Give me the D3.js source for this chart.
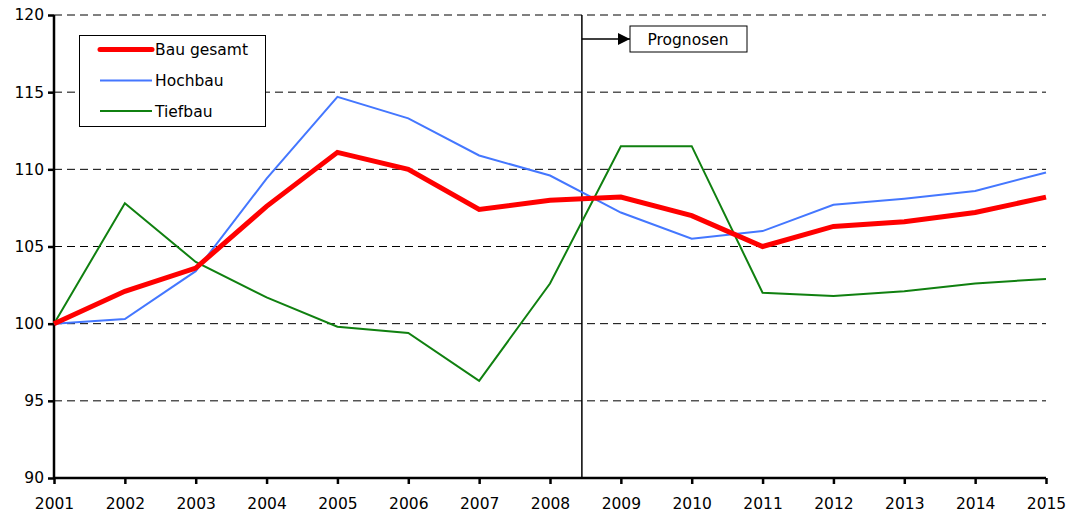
<!DOCTYPE html>
<html><head><meta charset="utf-8">
<script src="https://cdn.jsdelivr.net/npm/d3@7"></script>
<style>
body{margin:0;background:#fff;}
svg{display:block;font-family:"DejaVu Sans",sans-serif;}
</style></head>
<body><svg id="c" width="1067" height="515"></svg>
<script>
const years = [2001,2002,2003,2004,2005,2006,2007,2008,2009,2010,2011,2012,2013,2014,2015];
const bauGesamt = [100,102.1,103.6,107.6,111.1,110.0,107.4,108.0,108.2,107.0,105.0,106.3,106.6,107.2,108.2];
const hochbau   = [100,100.3,103.4,109.4,114.7,113.3,110.9,109.6,107.2,105.5,106.0,107.7,108.1,108.6,109.8];
const tiefbau   = [100,107.8,104.0,101.7,99.8,99.4,96.3,102.6,111.5,111.5,102.0,101.8,102.1,102.6,102.9];
const yTicks = [90,95,100,105,110,115,120];
const forecastStart = 2008.45;
const forecastLabel = "Prognosen";

const series = [
  {name:"Bau gesamt", values:bauGesamt, color:"#ff0000", width:5},
  {name:"Hochbau", values:hochbau, color:"#4477ff", width:2},
  {name:"Tiefbau", values:tiefbau, color:"#108010", width:2}
];

const FS = "15.5px";
const svg = d3.select("#c");
const x = d3.scaleLinear().domain([2001,2015]).range([54,1046]);
const y = d3.scaleLinear().domain([90,120]).range([478,15]);

// gridlines
svg.append("g").selectAll("line").data(yTicks.filter(d=>d>90)).join("line")
  .attr("x1",x(2001)).attr("x2",x(2015))
  .attr("y1",d=>y(d)).attr("y2",d=>y(d))
  .attr("stroke","#000").attr("stroke-width",1).attr("stroke-dasharray","8,5");

// axes
const yAxis = d3.axisLeft(y).tickValues(yTicks).tickSize(6).tickPadding(4).tickFormat(d3.format("d"));
const gy = svg.append("g").attr("transform",`translate(${x(2001)},0)`).call(yAxis);
const xAxis = d3.axisBottom(x).tickValues(years).tickSize(6).tickPadding(14).tickFormat(d3.format("d"));
const gx = svg.append("g").attr("transform",`translate(0,${y(90)})`).call(xAxis);
[gx,gy].forEach(g=>{
  g.attr("font-family",null).attr("font-size",null);
  g.select(".domain").attr("stroke","#000").attr("stroke-width",2.5);
  g.selectAll(".tick line").attr("stroke","#000").attr("stroke-width",2.5);
  g.selectAll("text").attr("fill","#000").attr("font-size",FS).style("font-size",FS).style("font-family","'DejaVu Sans',sans-serif");
});
gy.select(".domain").attr("d",`M0,${y(120)}V${y(90)}`);
gx.select(".domain").attr("d",`M${x(2001)},0H${x(2015)}`);

// forecast divider
svg.append("line").attr("x1",x(forecastStart)).attr("x2",x(forecastStart))
  .attr("y1",y(120)).attr("y2",y(90)).attr("stroke","#000").attr("stroke-width",1.5);

// lines
const line = d3.line().x((d,i)=>x(years[i])).y(d=>y(d));
const order = [series[2],series[1],series[0]];
svg.append("g").selectAll("path").data(order).join("path")
  .attr("d",d=>line(d.values)).attr("fill","none")
  .attr("stroke",d=>d.color).attr("stroke-width",d=>d.width)
  .attr("stroke-linejoin","miter");

// Prognosen arrow and box
const ay = 39;
svg.append("defs").append("marker").attr("id","arr").attr("viewBox","0 0 10 10")
  .attr("refX",10).attr("refY",5).attr("markerWidth",14).attr("markerHeight",12)
  .attr("markerUnits","userSpaceOnUse").attr("orient","auto")
  .append("path").attr("d","M0,0L10,5L0,10Z").attr("fill","#000");
svg.append("line").attr("x1",x(forecastStart)).attr("x2",630).attr("y1",ay).attr("y2",ay)
  .attr("stroke","#000").attr("stroke-width",1.5).attr("marker-end","url(#arr)");
svg.append("rect").attr("x",630).attr("y",26).attr("width",117).attr("height",26)
  .attr("fill","#fff").attr("stroke","#000").attr("stroke-width",1);
svg.append("text").attr("x",688).attr("y",45).attr("text-anchor","middle")
  .style("font-size",FS).text(forecastLabel);

// legend
const lg = svg.append("g");
lg.append("rect").attr("x",79.5).attr("y",35.5).attr("width",186).attr("height",91)
  .attr("fill","#fff").attr("stroke","#000").attr("stroke-width",1);
const ly = [49.5,80.5,111];
series.forEach((s,i)=>{
  lg.append("line").attr("x1",100).attr("x2",152).attr("y1",ly[i]).attr("y2",ly[i])
    .attr("stroke",s.color).attr("stroke-width",s.width).attr("stroke-linecap", i===0?"round":"butt");
  lg.append("text").attr("x",155).attr("y",ly[i]+5.5).style("font-size",FS).text(s.name);
});
</script></body></html>
